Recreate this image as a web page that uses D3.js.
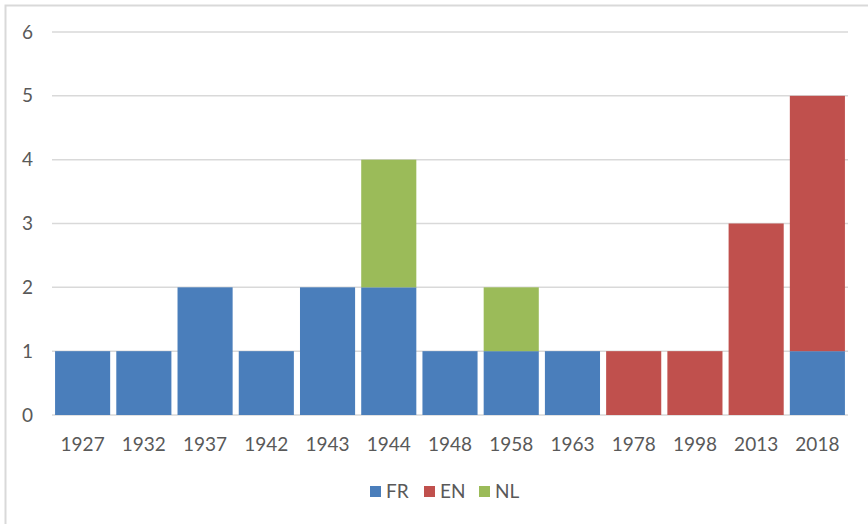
<!DOCTYPE html>
<html><head><meta charset="utf-8">
<script src="https://cdn.jsdelivr.net/npm/d3@7"></script>
<style>body{margin:0;background:#fff;}svg{display:block;font-family:Lato,"Open Sans",sans-serif;}</style>
</head><body>
<svg id="c" width="868" height="524"></svg>
<script>
const years = ["1927","1932","1937","1942","1943","1944","1948","1958","1963","1978","1998","2013","2018"];
const FR = [1,1,2,1,2,2,1,1,1,0,0,0,1];
const EN = [0,0,0,0,0,0,0,0,0,1,1,3,4];
const NL = [0,0,0,0,0,2,0,1,0,0,0,0,0];
const seriesNames = ["FR","EN","NL"];
const colors = ["#4a7ebb","#c0504d","#9bbb59"];
const yTicks = [0,1,2,3,4,5,6];

const svg = d3.select("#c");
svg.append("rect").attr("x",5.5).attr("y",5.5).attr("width",880).attr("height",530)
  .attr("fill","none").attr("stroke","#d9d9d9").attr("stroke-width",2);

const x = d3.scaleBand().domain(years).range([52,848]).paddingInner(0.1).paddingOuter(0.05);
const y = d3.scaleLinear().domain([0,6]).range([415,32]);

const g = svg.append("g");
g.selectAll("line.grid").data(yTicks).join("line")
  .attr("x1",52).attr("x2",848).attr("y1",d=>y(d)).attr("y2",d=>y(d))
  .attr("stroke","#d9d9d9").attr("stroke-width",1.5);

const rows = years.map((yr,i)=>({year:yr,FR:FR[i],EN:EN[i],NL:NL[i]}));
const stacked = d3.stack().keys(seriesNames)(rows);
g.selectAll("g.s").data(stacked).join("g").attr("fill",(d,i)=>colors[i])
  .selectAll("rect").data(d=>d.filter(p=>p[1]>p[0])).join("rect")
  .attr("x",d=>x(d.data.year)).attr("width",x.bandwidth())
  .attr("y",d=>y(d[1])).attr("height",d=>y(d[0])-y(d[1]));

const yAxis = d3.axisLeft(y).tickValues(yTicks).tickSize(0).tickPadding(0).tickFormat(d3.format("d"));
const ya = svg.append("g").attr("transform","translate(33,0)").call(yAxis);
ya.select(".domain").remove();
ya.selectAll("text").attr("font-size",19).attr("fill","#595959").attr("font-family","Lato");

const xAxis = d3.axisBottom(x).tickSize(0).tickPadding(0);
const xa = svg.append("g").attr("transform","translate(0,437)").call(xAxis);
xa.select(".domain").remove();
xa.selectAll("text").attr("font-size",19).attr("fill","#595959").attr("font-family","Lato");

const legX = [370,424,479];
const leg = svg.append("g");
seriesNames.forEach((n,i)=>{
  leg.append("rect").attr("x",legX[i]).attr("y",486).attr("width",11).attr("height",11).attr("fill",colors[i]);
  leg.append("text").attr("x",legX[i]+16).attr("y",498).attr("font-size",19).attr("fill","#595959").text(n);
});
</script>
</body></html>
